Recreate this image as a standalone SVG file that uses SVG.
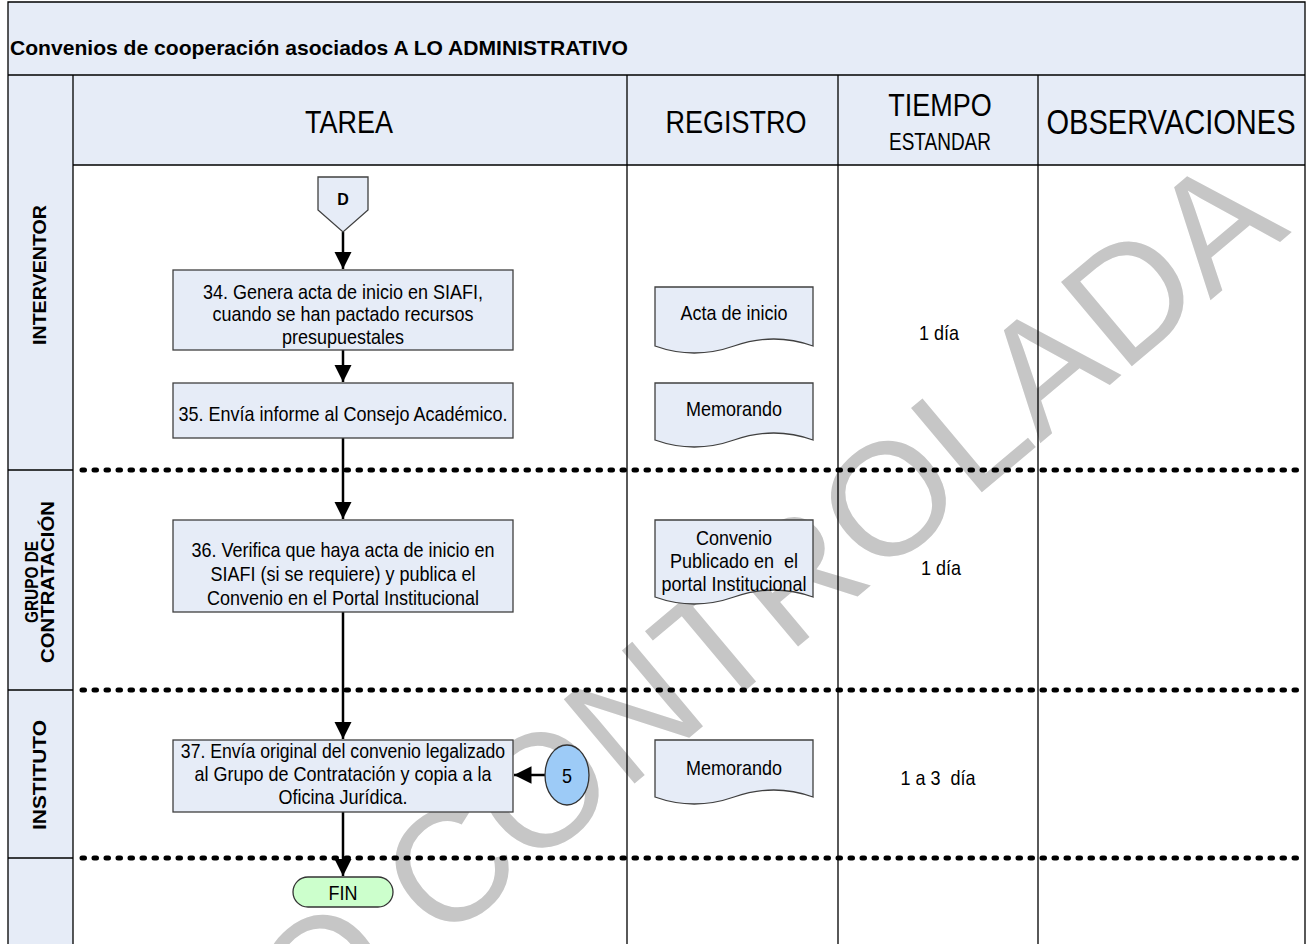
<svg xmlns="http://www.w3.org/2000/svg" width="1310" height="944" viewBox="0 0 1310 944">
<defs>
<style>
.t{font-family:"Liberation Sans",Arial,sans-serif;fill:#000;text-anchor:middle;dominant-baseline:central}
.bx{font-size:21px}
.hd{font-size:32px}
.ln{font-size:18px;font-weight:bold}
.node{fill:#E6ECF7;stroke:#404040;stroke-width:1.3}
.grid{stroke:#000;stroke-width:1.3;fill:none}
.dot{stroke:#000;stroke-width:5;stroke-dasharray:2.5 9.5;stroke-linecap:round;fill:none}
.con{stroke:#000;stroke-width:2.5;fill:none}
.wm{font-family:"Liberation Sans",Arial,sans-serif;font-size:160px;fill:#C6C6C6}
</style>
<marker id="ah" viewBox="0 0 10 10" refX="10" refY="5" markerWidth="7" markerHeight="7" markerUnits="strokeWidth" orient="auto">
<path d="M0,0 L10,5 L0,10 Z" fill="#000"/>
</marker>
</defs>
<rect x="0" y="0" width="1310" height="944" fill="#fff"/>
<g id="frame">
<rect x="8" y="2" width="1297" height="73" fill="#E6ECF7"/>
<rect x="8" y="75" width="1297" height="90" fill="#E6ECF7"/>
<rect x="8" y="165" width="65" height="779" fill="#E6ECF7"/>
<text x="10" y="47" font-family="Liberation Sans, Arial, sans-serif" font-size="21" font-weight="bold" dominant-baseline="central" textLength="618" lengthAdjust="spacingAndGlyphs">Convenios de cooperación asociados A LO ADMINISTRATIVO</text>
</g>
<text class="wm" transform="translate(1292,232) rotate(-40)" text-anchor="end">COPIA NO CONTROLADA</text>
<g id="grid">
<path class="grid" d="M8,944 V2 H1305 V944 M8,75 H1305 M73,75 V944 M73,165 H1305 M627,75 V944 M838,75 V944 M1038,75 V944"/>
<path class="grid" d="M8,470 H73 M8,690 H73 M8,858 H73"/>
<path class="dot" d="M82,470 H1305 M82,690 H1305 M82,858 H1305"/>
</g>
<g id="headers">
<text class="t hd" transform="translate(349,122) scale(.844,1)">TAREA</text>
<text class="t hd" transform="translate(736,122) scale(.844,1)">REGISTRO</text>
<text class="t hd" transform="translate(940,105) scale(.844,1)">TIEMPO</text>
<text class="t" font-size="23" transform="translate(940,142) scale(.826,1)">ESTANDAR</text>
<text class="t" font-size="35" transform="translate(1171,122) scale(.83,1)">OBSERVACIONES</text>
</g>
<g id="lanes">
<text class="t ln" transform="translate(40,275) rotate(-90)" textLength="140" lengthAdjust="spacingAndGlyphs">INTERVENTOR</text>
<text class="t ln" font-size="15" transform="translate(32,582) rotate(-90)" textLength="82" lengthAdjust="spacingAndGlyphs">GRUPO DE</text>
<text class="t ln" font-size="15" transform="translate(48,582) rotate(-90)" textLength="162" lengthAdjust="spacingAndGlyphs">CONTRATACIÓN</text>
<text class="t ln" transform="translate(40,775) rotate(-90)" textLength="110" lengthAdjust="spacingAndGlyphs">INSTITUTO</text>
</g>
<g id="connectors">
<path class="con" d="M343,232 V269" marker-end="url(#ah)"/>
<path class="con" d="M343,350 V382" marker-end="url(#ah)"/>
<path class="con" d="M343,438 V519" marker-end="url(#ah)"/>
<path class="con" d="M343,612 V739" marker-end="url(#ah)"/>
<path class="con" d="M343,812 V876" marker-end="url(#ah)"/>
<path class="con" d="M545,775 H514" marker-end="url(#ah)"/>
</g>
<g id="nD">
<path class="node" d="M318,177 H368 V210 L343,232 L318,210 Z"/>
<text class="t" x="343" y="199" font-size="16" font-weight="bold">D</text>
</g>
<g id="n34">
<rect class="node" x="173" y="270" width="340" height="80"/>
<text class="t bx" transform="translate(343,291) scale(.857,1)">34. Genera acta de inicio en SIAFI,</text>
<text class="t bx" transform="translate(343,313) scale(.857,1)">cuando se han pactado recursos</text>
<text class="t bx" transform="translate(343,336) scale(.857,1)">presupuestales</text>
</g>
<g id="n35">
<rect class="node" x="173" y="383" width="340" height="55"/>
<text class="t bx" transform="translate(343,413) scale(.857,1)">35. Envía informe al Consejo Académico.</text>
</g>
<g id="n36">
<rect class="node" x="173" y="520" width="340" height="92"/>
<text class="t bx" transform="translate(343,549) scale(.857,1)">36. Verifica que haya acta de inicio en</text>
<text class="t bx" transform="translate(343,573) scale(.857,1)">SIAFI (si se requiere) y publica el</text>
<text class="t bx" transform="translate(343,597) scale(.857,1)">Convenio en el Portal Institucional</text>
</g>
<g id="n37">
<rect class="node" x="173" y="740" width="340" height="72"/>
<text class="t bx" transform="translate(343,750) scale(.84,1)">37. Envía original del convenio legalizado</text>
<text class="t bx" transform="translate(343,773) scale(.857,1)">al Grupo de Contratación y copia a la</text>
<text class="t bx" transform="translate(343,796) scale(.857,1)">Oficina Jurídica.</text>
</g>
<g id="c5">
<ellipse cx="567" cy="775" rx="22" ry="30" fill="#9DCBF7" stroke="#333" stroke-width="1.3"/>
<text class="t bx" transform="translate(567,775) scale(.857,1)">5</text>
</g>
<g id="fin">
<rect x="293" y="877" width="100" height="30" rx="15" fill="#CCFFCC" stroke="#333" stroke-width="1.3"/>
<text class="t bx" transform="translate(343,892) scale(.857,1)">FIN</text>
</g>
<g id="d1">
<path class="node" d="M655,287 H813 V346 Q774,332 734,346 T655,346 Z"/>
<text class="t bx" transform="translate(734,312) scale(.857,1)">Acta de inicio</text>
</g>
<g id="d2">
<path class="node" d="M655,383 H813 V440 Q774,426 734,440 T655,440 Z"/>
<text class="t bx" transform="translate(734,408) scale(.857,1)">Memorando</text>
</g>
<g id="d3">
<path class="node" d="M655,520 H813 V597 Q774,583 734,597 T655,597 Z"/>
<text class="t bx" transform="translate(734,537) scale(.857,1)">Convenio</text>
<text class="t bx" transform="translate(734,560) scale(.857,1)">Publicado en&#160; el</text>
<text class="t bx" transform="translate(734,583) scale(.857,1)">portal Institucional</text>
</g>
<g id="d4">
<path class="node" d="M655,740 H813 V797 Q774,783 734,797 T655,797 Z"/>
<text class="t bx" transform="translate(734,767) scale(.857,1)">Memorando</text>
</g>
<g id="times">
<text class="t bx" transform="translate(939,332) scale(.857,1)">1 día</text>
<text class="t bx" transform="translate(941,567) scale(.857,1)">1 día</text>
<text class="t bx" transform="translate(938,777) scale(.857,1)">1 a 3&#160; día</text>
</g>
</svg>
